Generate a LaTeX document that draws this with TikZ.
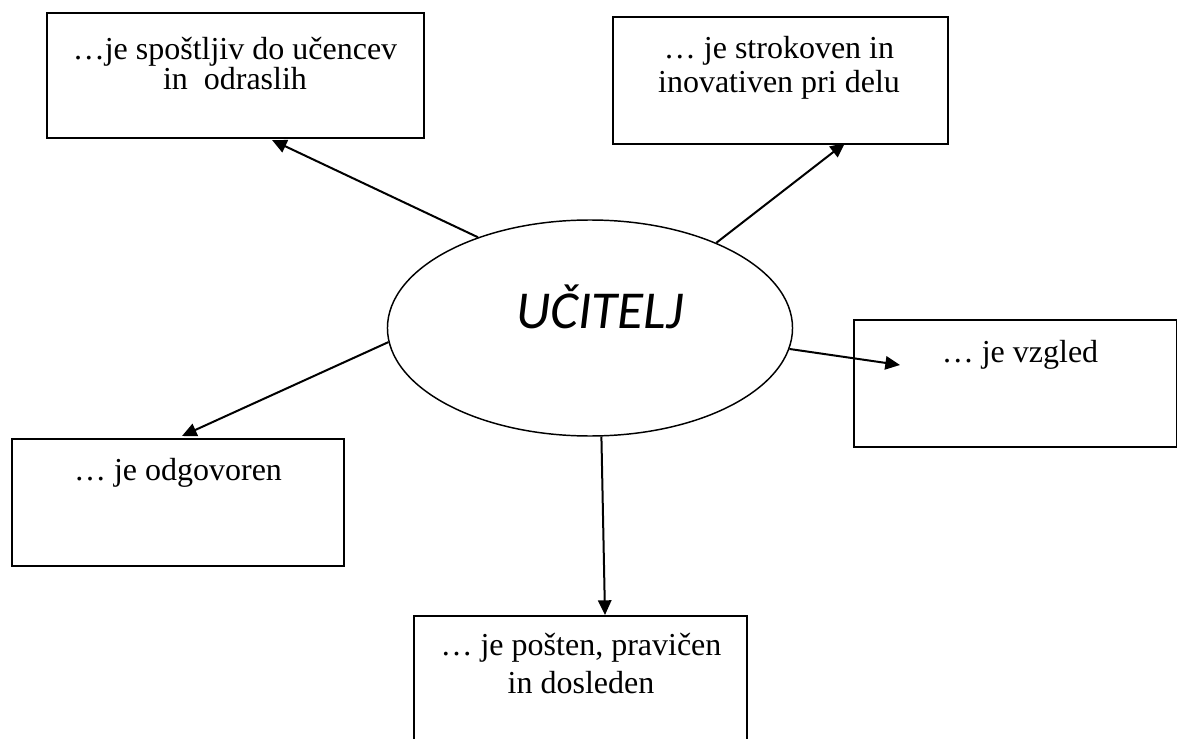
\documentclass[tikz,border=0pt]{standalone}
\usepackage{fontspec}
\setmainfont{Liberation Serif}
\newfontfamily\calibri{Carlito}
\usetikzlibrary{shapes,arrows.meta}

\tikzset{
  okvir/.style={draw, line width=0.75pt, rectangle, anchor=north west, inner sep=0pt},
  besedilo/.style={anchor=base, align=center, font=\fontsize{12}{13}\selectfont},
  puscica/.style={line width=0.75pt, -{Triangle[length=5.5pt,width=5pt]}}
}

\begin{document}
\begin{tikzpicture}[x=0.375pt, y=-0.375pt]
\clip (0,0) rectangle (1177,739);

% the ellipse in the middle
\node[draw, ellipse, line width=0.55pt, minimum width=151.9pt, minimum height=81pt, inner sep=0pt] (ucitelj) at (590,328) {};
\node[anchor=base, font=\calibri\itshape\fontsize{20}{24}\selectfont] (naslov) at (600,328) {UČITELJ};

% five boxes round it
\node[okvir, minimum width=141.4pt, minimum height=46.9pt] (spostljiv) at (46,12) {};
\node[okvir, minimum width=125.6pt, minimum height=47.6pt] (strokoven) at (612,16) {};
\node[okvir, minimum width=121.1pt, minimum height=47.6pt] (vzgled) at (853,319) {};
\node[okvir, minimum width=124.5pt, minimum height=47.6pt] (odgovoren) at (11,438) {};
\node[okvir, minimum width=124.9pt, minimum height=47.6pt] (posten) at (413,615) {};

% texts in the boxes (base = last line)
\node[besedilo, font=\fontsize{12}{11.5}\selectfont] (t1) at (235,90) {…je spoštljiv do učencev\\ in~ odraslih};
\node[besedilo] (t2) at (779,93) {… je strokoven in\\ inovativen pri delu};
\node[besedilo] (t3) at (1020,362) {… je vzgled};
\node[besedilo] (t4) at (178,480) {… je odgovoren};
\node[besedilo, font=\fontsize{12}{14}\selectfont] (t5) at (581,693) {… je pošten, pravičen\\ in dosleden};

% where the arrows end
\coordinate (k1) at (272,140);
\coordinate (k2) at (845,143);
\coordinate (k3) at (900,365);
\coordinate (k4) at (182,436);
\coordinate (k5) at (605,615);

\draw[puscica] (ucitelj.141.5) -- (k1);
\draw[puscica] (ucitelj.34.7) -- (k2);
\draw[puscica] (ucitelj.-6.3) -- (k3);
\draw[puscica] (ucitelj.184.9) -- (k4);
\draw[puscica] (ucitelj.-84.3) -- (k5);
\end{tikzpicture}
\end{document}
